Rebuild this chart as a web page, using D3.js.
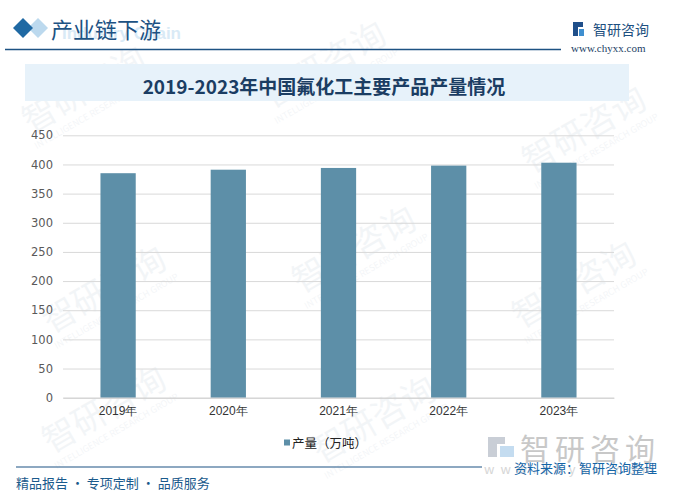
<!DOCTYPE html>
<html>
<head>
<meta charset="utf-8">
<script src="https://cdn.jsdelivr.net/npm/d3@7"></script>
<style>
  body { margin: 0; background: #fff; }
  svg { display: block; font-family: "Noto Sans CJK SC", "Noto Sans", sans-serif; }
</style>
</head>
<body>
<div id="chart"></div>
<script>
const years = [`2019年`, `2020年`, `2021年`, `2022年`, `2023年`];
const output = [385, 391, 394, 398, 403];
const yTicks = [0, 50, 100, 150, 200, 250, 300, 350, 400, 450];
const seriesName = `产量（万吨）`;
const chartTitle = `2019-2023年中国氟化工主要产品产量情况`;

const width = 676;
const height = 500;
const plot = {left: 63, right: 614, top: 135.3, bottom: 397.7};
const barColor = `#5d8fa8`;

const svg = d3.select(`#chart`)
  .append(`svg`)
    .attr(`width`, width)
    .attr(`height`, height);

// faint background watermarks
const marks = [[90, 100], [330, 75], [590, 140], [110, 300], [360, 260], [580, 295], [110, 420], [380, 430]];
marks.forEach(([mx, my]) => {
  const g = svg.append(`g`)
    .attr(`transform`, `translate(${mx},${my}) rotate(-30)`)
    .attr(`opacity`, 0.05);
  g.append(`text`)
    .attr(`text-anchor`, `middle`)
    .attr(`font-size`, 34)
    .attr(`fill`, `#1f4f7a`)
    .text(`智研咨询`);
  g.append(`text`)
    .attr(`y`, 16)
    .attr(`text-anchor`, `middle`)
    .attr(`font-size`, 9)
    .attr(`fill`, `#1f4f7a`)
    .text(`INTELLIGENCE RESEARCH GROUP`);
});

// header
svg.append(`text`)
  .attr(`x`, 62)
  .attr(`y`, 39)
  .attr(`font-family`, `"Liberation Sans", sans-serif`)
  .attr(`font-weight`, `bold`)
  .attr(`font-size`, 17)
  .attr(`fill`, `#d9eaf6`)
  .text(`Industry Chain`);

svg.append(`path`)
  .attr(`d`, `M38,18 L48,28 L38,38 L28,28 Z`)
  .attr(`fill`, `#bcd9ee`);
svg.append(`path`)
  .attr(`d`, `M23,18 L33,28 L23,38 L13,28 Z`)
  .attr(`fill`, `#1f69a3`);

svg.append(`text`)
  .attr(`x`, 51)
  .attr(`y`, 28)
  .attr(`dominant-baseline`, `central`)
  .attr(`font-size`, 22)
  .attr(`fill`, `#1d5283`)
  .text(`产业链下游`);

svg.append(`line`)
  .attr(`x1`, 5).attr(`x2`, 561)
  .attr(`y1`, 49.5).attr(`y2`, 49.5)
  .attr(`stroke`, `#1d5283`)
  .attr(`stroke-width`, 1.5);

// logo top right
const logo = svg.append(`g`).attr(`transform`, `translate(573,22)`);
logo.append(`rect`).attr(`x`, 0).attr(`y`, 0).attr(`width`, 5).attr(`height`, 14).attr(`fill`, `#1f4f8a`);
logo.append(`rect`).attr(`x`, 5).attr(`y`, 0).attr(`width`, 5).attr(`height`, 5).attr(`fill`, `#1f4f8a`);
logo.append(`rect`).attr(`x`, 6).attr(`y`, 7).attr(`width`, 5).attr(`height`, 7).attr(`fill`, `#3f8fd0`);
svg.append(`text`)
  .attr(`x`, 593)
  .attr(`y`, 29)
  .attr(`dominant-baseline`, `central`)
  .attr(`font-size`, 14)
  .attr(`fill`, `#1d4f80`)
  .text(`智研咨询`);
svg.append(`text`)
  .attr(`x`, 571)
  .attr(`y`, 52)
  .attr(`font-family`, `"Liberation Serif", serif`)
  .attr(`font-size`, 11)
  .attr(`fill`, `#1d3f66`)
  .text(`www.chyxx.com`);

// title box
svg.append(`rect`)
  .attr(`x`, 25).attr(`y`, 64)
  .attr(`width`, 604).attr(`height`, 37)
  .attr(`fill`, `#e7f2fa`);
svg.append(`text`)
  .attr(`x`, 324)
  .attr(`y`, 85)
  .attr(`text-anchor`, `middle`)
  .attr(`dominant-baseline`, `central`)
  .attr(`font-size`, 19)
  .attr(`font-weight`, `bold`)
  .attr(`fill`, `#1b3d63`)
  .text(chartTitle);

// scales
const x = d3.scaleBand()
  .domain(years)
  .range([plot.left, plot.right])
  .paddingInner(0.68)
  .paddingOuter(0.34);

const y = d3.scaleLinear()
  .domain([0, 450])
  .range([plot.bottom, plot.top]);

// grid + y labels
const yAxis = svg.append(`g`)
  .attr(`class`, `y-axis`)
  .attr(`transform`, `translate(${plot.left},0)`)
  .call(d3.axisLeft(y).tickValues(yTicks).tickSize(-(plot.right - plot.left)).tickPadding(10));
yAxis.select(`.domain`).remove();
yAxis.selectAll(`.tick line`).attr(`stroke`, `#d9d9d9`);
yAxis.selectAll(`.tick text`)
  .attr(`font-family`, `"DejaVu Sans", sans-serif`)
  .attr(`font-size`, 11.5)
  .attr(`fill`, `#595959`);

// bars
svg.append(`g`)
  .selectAll(`rect`)
  .data(output)
  .enter().append(`rect`)
    .attr(`x`, (d, i) => x(years[i]))
    .attr(`y`, d => y(d))
    .attr(`width`, x.bandwidth())
    .attr(`height`, d => y(0) - y(d))
    .attr(`fill`, barColor);

// x labels
const xAxis = svg.append(`g`)
  .attr(`class`, `x-axis`)
  .attr(`transform`, `translate(0,${plot.bottom})`)
  .call(d3.axisBottom(x).tickSize(0).tickPadding(9));
xAxis.select(`.domain`).attr(`stroke`, `#d0d0d0`);
xAxis.selectAll(`.tick text`)
  .attr(`font-size`, 12)
  .attr(`fill`, `#333`);

// legend
svg.append(`rect`)
  .attr(`x`, 284).attr(`y`, 439.5)
  .attr(`width`, 6).attr(`height`, 6)
  .attr(`fill`, barColor);
svg.append(`text`)
  .attr(`x`, 292)
  .attr(`y`, 442.5)
  .attr(`dominant-baseline`, `central`)
  .attr(`font-size`, 12.5)
  .attr(`fill`, `#222`)
  .text(seriesName);

// bottom watermark logo
const wm = svg.append(`g`).attr(`transform`, `translate(488,437)`);
wm.append(`rect`).attr(`x`, 0).attr(`y`, 0).attr(`width`, 9).attr(`height`, 20).attr(`fill`, `#c9ced6`);
wm.append(`rect`).attr(`x`, 9).attr(`y`, 0).attr(`width`, 8).attr(`height`, 7).attr(`fill`, `#c9ced6`);
wm.append(`rect`).attr(`x`, 12).attr(`y`, 9).attr(`width`, 14).attr(`height`, 11).attr(`fill`, `#c4dcf0`);
svg.append(`text`)
  .attr(`x`, 520)
  .attr(`y`, 447)
  .attr(`dominant-baseline`, `central`)
  .attr(`font-size`, 30)
  .attr(`letter-spacing`, 5)
  .attr(`fill`, `#c8c8c8`)
  .text(`智研咨询`);
svg.append(`text`)
  .attr(`x`, 484)
  .attr(`y`, 474)
  .attr(`font-size`, 13)
  .attr(`letter-spacing`, 6)
  .attr(`fill`, `#d6d6d6`)
  .text(`www.chyxx.com`);

// footer
svg.append(`line`)
  .attr(`x1`, 16).attr(`x2`, 482)
  .attr(`y1`, 467).attr(`y2`, 467)
  .attr(`stroke`, `#1d5283`)
  .attr(`stroke-width`, 1.2);
svg.append(`text`)
  .attr(`x`, 514)
  .attr(`y`, 467.5)
  .attr(`dominant-baseline`, `central`)
  .attr(`font-size`, 13)
  .attr(`fill`, `#1565a6`)
  .text(`资料来源：智研咨询整理`);
svg.append(`text`)
  .attr(`x`, 16)
  .attr(`y`, 482)
  .attr(`dominant-baseline`, `central`)
  .attr(`font-size`, 13)
  .attr(`fill`, `#1a5a8c`)
  .text(`精品报告 · 专项定制 · 品质服务`);
</script>
</body>
</html>
